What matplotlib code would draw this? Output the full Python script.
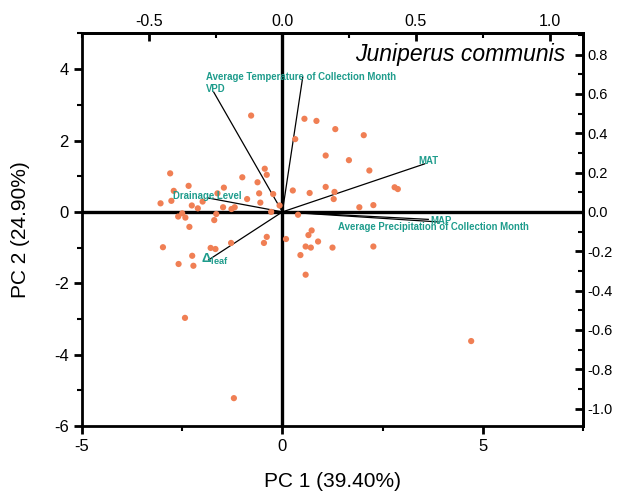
import matplotlib
matplotlib.use("Agg")
import matplotlib.pyplot as plt
from matplotlib.ticker import MultipleLocator
import numpy as np

plt.rcParams['font.family'] = ['Liberation Sans', 'DejaVu Sans']
plt.rcParams['axes.unicode_minus'] = False
plt.rcParams['mathtext.fontset'] = 'custom'
plt.rcParams['mathtext.rm'] = 'Liberation Sans'
plt.rcParams['mathtext.bf'] = 'Liberation Sans:bold'

# PCA scores (PC1, PC2) for each Juniperus communis sample
pc1 = [-0.78, -0.44, -0.39, -2.80, -1.00, -0.62, -2.34, -1.46, -2.71, -1.62,
       -0.58, -0.23, -0.88, -0.55, -2.77, -3.04, -1.99, -2.26, -2.11, -1.48,
       -1.27, -1.19, -0.07, -0.28, -2.50, -2.60, -2.42, -1.65, -1.70, -2.32,
       -0.39, -0.46, -1.28, -1.79, -1.67, -2.98, -2.25, -2.59, -2.22, -2.43,
       -1.21, 0.55, 0.85, 1.32, 2.03, 0.32, 1.08, 1.66, 2.17, 0.26,
       0.68, 1.08, 1.30, 1.28, 2.80, 2.88, 1.92, 2.27, 0.39, 0.73,
       0.65, 0.09, 0.89, 0.58, 0.71, 1.25, 2.27, 0.45, 0.58, 4.71]
pc2 = [2.70, 1.21, 1.04, 1.08, 0.97, 0.83, 0.73, 0.68, 0.59, 0.52,
       0.52, 0.50, 0.36, 0.26, 0.31, 0.24, 0.29, 0.18, 0.10, 0.13,
       0.08, 0.13, 0.18, 0.00, -0.04, -0.13, -0.16, -0.06, -0.23, -0.42,
       -0.70, -0.87, -0.87, -1.01, -1.04, -0.99, -1.23, -1.46, -1.51, -2.97,
       -5.22, 2.61, 2.55, 2.32, 2.15, 2.04, 1.58, 1.45, 1.16, 0.60,
       0.53, 0.70, 0.56, 0.36, 0.69, 0.64, 0.13, 0.19, -0.08, -0.52,
       -0.65, -0.76, -0.83, -0.97, -1.00, -1.00, -0.97, -1.21, -1.76, -3.62]

# Variable loadings on PC1 / PC2
variables = ["Average Temperature of Collection Month", "VPD", "MAT", "MAP",
             "Average Precipitation of Collection Month", "Drainage Level",
             r"$\mathbf{\Delta}_{\mathbf{leaf}}$"]
load1 = [0.076, -0.257, 0.532, 0.583, 0.546, -0.279, -0.276]
load2 = [0.684, 0.609, 0.244, -0.051, -0.038, 0.071, -0.244]
# label anchor points (loading units)
lab1 = [-0.287, -0.287, 0.508, 0.553, 0.208, -0.411, -0.305]
lab2 = [0.686, 0.625, 0.259, -0.046, -0.076, 0.081, -0.244]

title = "Juniperus communis"
xlabel = "PC 1 (39.40%)"
ylabel = "PC 2 (24.90%)"

# scale between score axes (bottom/left) and loading axes (top/right)
sx = 7.5 / 1.125
sy = 5.0 / 0.907

fig = plt.figure(figsize=(6.22, 4.97), dpi=100)
ax = fig.add_axes([0.1318, 0.1429, 0.8055, 0.7897])
ax.set_xlim(-5, 7.5)
ax.set_ylim(-6, 5)

ax.axhline(0, color='black', lw=2.4, zorder=1)
ax.axvline(0, color='black', lw=2.4, zorder=1)

ax.scatter(pc1, pc2, s=20, color='#F07F54', edgecolors='none', zorder=3)

teal = '#1E9C8C'
for name, a, b, tx, ty in zip(variables, load1, load2, lab1, lab2):
    ax.plot([0, a * sx], [0, b * sy], color='black', lw=0.9, zorder=2)
    fs = 9.5 if name.startswith('$') else 6.9
    ax.text(tx * sx, ty * sy, name, color=teal, fontsize=fs, fontweight='bold',
            ha='left', va='center', zorder=4)

ax.text(0.965, 0.975, title, transform=ax.transAxes, ha='right', va='top',
        fontsize=16.5, style='italic')

for s in ax.spines.values():
    s.set_linewidth(2.0)

ax.xaxis.set_major_locator(MultipleLocator(5))
ax.xaxis.set_minor_locator(MultipleLocator(2.5))
ax.yaxis.set_major_locator(MultipleLocator(2))
ax.yaxis.set_minor_locator(MultipleLocator(1))
ax.tick_params(which='major', direction='out', length=6, width=2, labelsize=12)
ax.tick_params(which='minor', direction='out', length=3.5, width=1.5)

secx = ax.secondary_xaxis('top', functions=(lambda v: v / sx, lambda v: v * sx))
secx.xaxis.set_major_locator(MultipleLocator(0.5))
secx.xaxis.set_minor_locator(MultipleLocator(0.25))
secx.tick_params(which='major', direction='in', length=6, width=2, labelsize=11.5)
secx.tick_params(which='minor', direction='in', length=3.5, width=1.5)
secx.xaxis.set_major_formatter(plt.FuncFormatter(lambda v, p: f"{v:.1f}"))
secx.spines['top'].set_linewidth(2.0)

secy = ax.secondary_yaxis('right', functions=(lambda v: v / sy, lambda v: v * sy))
secy.yaxis.set_major_locator(MultipleLocator(0.2))
secy.yaxis.set_minor_locator(MultipleLocator(0.1))
secy.tick_params(which='major', direction='in', length=6, width=2, labelsize=10.5)
secy.tick_params(which='minor', direction='in', length=3.5, width=1.5)
secy.yaxis.set_major_formatter(plt.FuncFormatter(lambda v, p: f"{v:.1f}"))
secy.spines['right'].set_linewidth(2.0)

ax.set_xlabel(xlabel, fontsize=15, labelpad=13)
ax.set_ylabel(ylabel, fontsize=15, labelpad=17)

fig.savefig("out.png", dpi=100)
